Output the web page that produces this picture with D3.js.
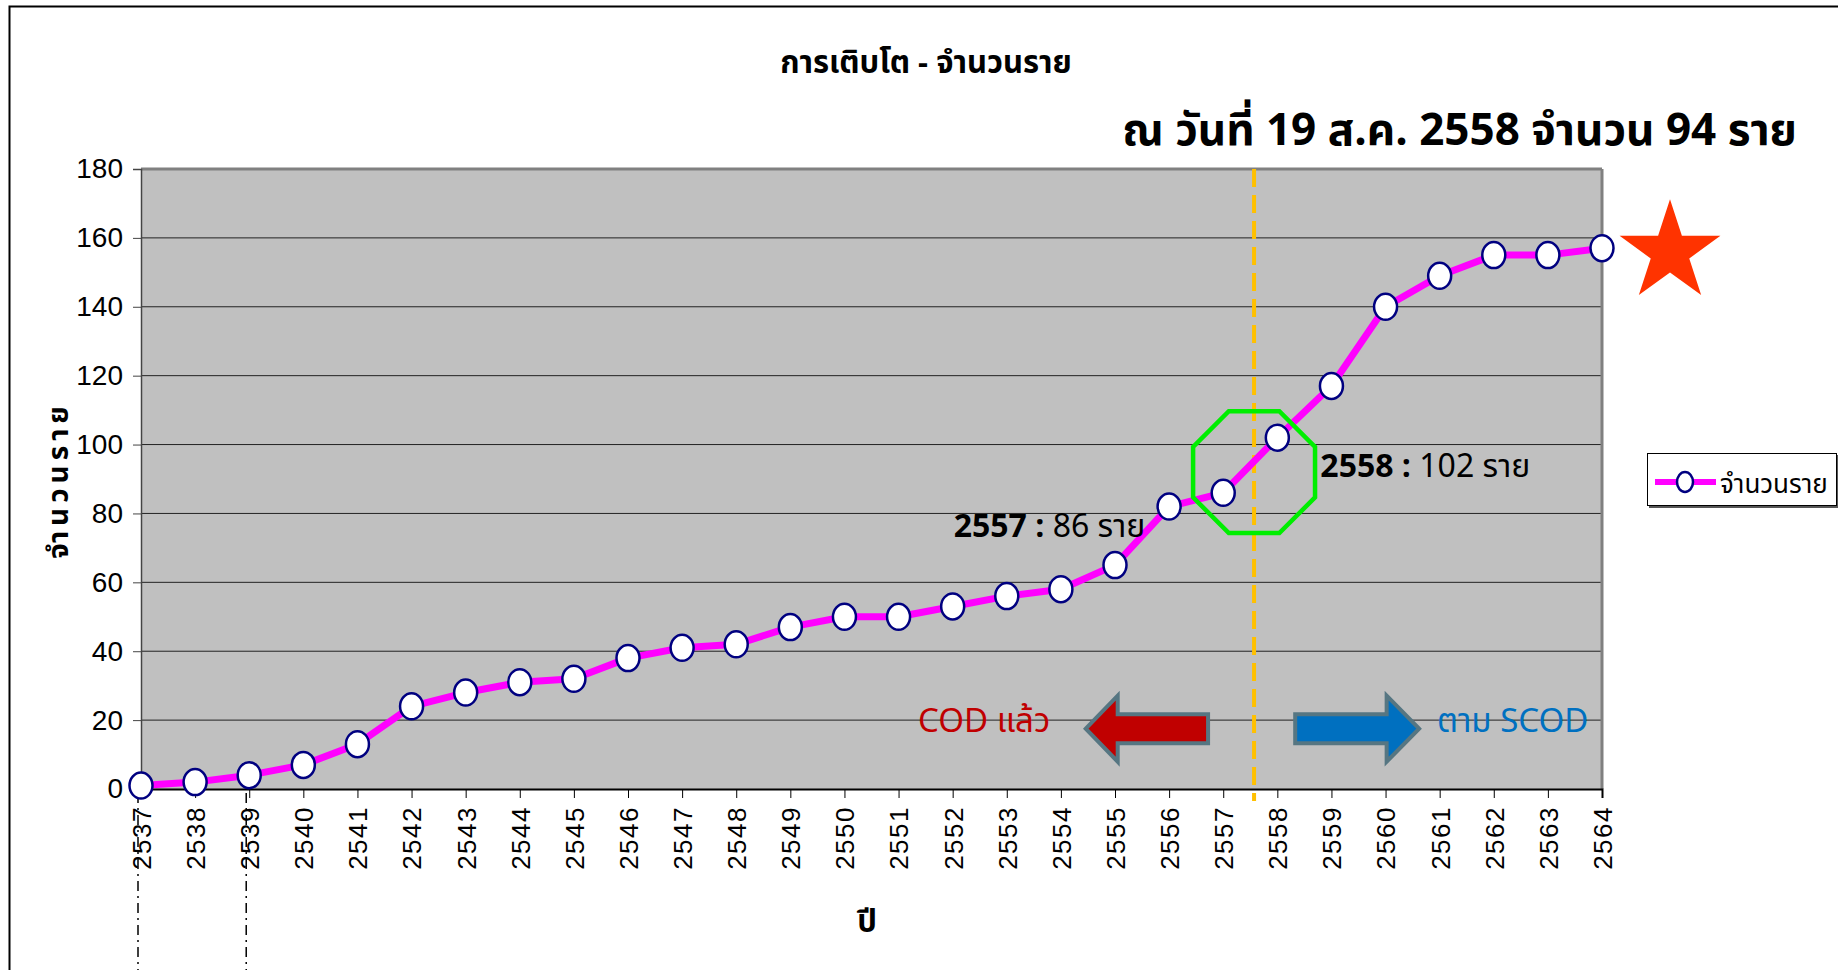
<!DOCTYPE html>
<meta charset="utf-8">
<script src="https://d3js.org/d3.v7.min.js"></script>
<style>
  body { margin: 0; background: #fff; }
  text { font-family: "Noto Sans Thai", "Noto Sans", "DejaVu Sans", sans-serif; }
</style>
<div id="chart"></div>
<script>
// data
var years = d3.range(2537, 2565);
var counts = [1, 2, 4, 7, 13, 24, 28, 31, 32, 38, 41, 42, 47, 50, 50, 53, 56, 58, 65, 82, 86, 102, 117, 140, 149, 155, 155, 157];
var yTicks = [0, 20, 40, 60, 80, 100, 120, 140, 160, 180];
var seriesName = "จำนวนราย";
var splitYear = 2557.57;   // orange dashed line
var ringValue = 92;        // centre of the green octagon

var W = 1838, H = 970;
var plot = {left: 141, right: 1602, top: 169, bottom: 789};

var svg = d3.select("#chart").append("svg")
    .attr("width", W).attr("height", H);

// outer chart border (runs off the right and bottom)
svg.append("rect")
    .attr("x", 9.5).attr("y", 6.5)
    .attr("width", W + 20).attr("height", H + 20)
    .attr("fill", "none").attr("stroke", "#000").attr("stroke-width", 2);

var x = d3.scaleLinear().domain([2537, 2564]).range([plot.left, plot.right]);
var y = d3.scaleLinear().domain([0, 180]).range([plot.bottom, plot.top]);

// plot background
svg.append("rect")
    .attr("x", plot.left).attr("y", plot.top)
    .attr("width", plot.right - plot.left).attr("height", plot.bottom - plot.top)
    .attr("fill", "#c0c0c0");

// gridlines
svg.append("g").selectAll("line")
  .data(yTicks.slice(1, -1))
  .enter().append("line")
    .attr("x1", plot.left).attr("x2", plot.right)
    .attr("y1", d => y(d)).attr("y2", d => y(d))
    .attr("stroke", "#222").attr("stroke-width", 1);

// top and right border of plot area
svg.append("line").attr("x1", plot.left).attr("x2", plot.right)
    .attr("y1", plot.top).attr("y2", plot.top)
    .attr("stroke", "#808080").attr("stroke-width", 3);
svg.append("line").attr("x1", plot.right).attr("x2", plot.right)
    .attr("y1", plot.top).attr("y2", plot.bottom)
    .attr("stroke", "#808080").attr("stroke-width", 3);

// Y axis
var yAxis = svg.append("g")
    .attr("transform", "translate(" + plot.left + ",0)")
    .call(d3.axisLeft(y).tickValues(yTicks).tickSize(8).tickPadding(10));
yAxis.select(".domain").attr("stroke", "#444").attr("stroke-width", 1.5);
yAxis.selectAll(".tick line").attr("stroke", "#444");
yAxis.selectAll("text")
    .style("font-family", "'Liberation Sans Narrow', 'Liberation Sans', Arial, sans-serif")
    .style("font-size", "28px").attr("fill", "#000");

// X axis
var xAxis = svg.append("g")
    .attr("transform", "translate(0," + plot.bottom + ")")
    .call(d3.axisBottom(x).tickValues(years).tickFormat(d3.format("d")).tickSize(9));
xAxis.select(".domain").attr("stroke", "#000").attr("stroke-width", 2);
xAxis.selectAll(".tick line").attr("stroke", "#000");
xAxis.selectAll("text")
    .style("font-family", "'Liberation Sans', Arial, sans-serif")
    .style("font-size", "26px").style("letter-spacing", "1.5px")
    .attr("fill", "#000")
    .attr("text-anchor", "end")
    .attr("transform", "translate(0,17) rotate(-90)")
    .attr("x", 0).attr("y", 0).attr("dy", "0.36em");

// dash-dot guide lines under 2537 and 2539
svg.append("g").selectAll("line")
  .data([2537, 2539])
  .enter().append("line")
    .attr("x1", d => x(d) - 3).attr("x2", d => x(d) - 3)
    .attr("y1", plot.bottom + 4).attr("y2", H)
    .attr("stroke", "#000").attr("stroke-width", 1.5)
    .attr("stroke-dasharray", "10,5,2,5");

// orange dashed divider
svg.append("line")
    .attr("x1", x(splitYear)).attr("x2", x(splitYear))
    .attr("y1", plot.top).attr("y2", plot.bottom + 12)
    .attr("stroke", "#ffc000").attr("stroke-width", 4)
    .attr("stroke-dasharray", "18,8");

// arrows
function arrowPath(tipX, baseX, endX, cy, bodyH, headH) {
  return "M" + tipX + "," + cy +
    "L" + baseX + "," + (cy - headH) +
    "L" + baseX + "," + (cy - bodyH) +
    "L" + endX + "," + (cy - bodyH) +
    "L" + endX + "," + (cy + bodyH) +
    "L" + baseX + "," + (cy + bodyH) +
    "L" + baseX + "," + (cy + headH) + "Z";
}
var arrowY = y(17.5);
svg.append("path")
    .attr("d", arrowPath(x(2554.46), x(2555.05), x(2556.72), arrowY, 14.5, 33))
    .attr("fill", "#c00000").attr("stroke", "#567682").attr("stroke-width", 4)
    .attr("stroke-linejoin", "miter");
svg.append("path")
    .attr("d", arrowPath(x(2560.62), x(2560.02), x(2558.33), arrowY, 14.5, 33))
    .attr("fill", "#0070c0").attr("stroke", "#567682").attr("stroke-width", 4)
    .attr("stroke-linejoin", "miter");

svg.append("text")
    .attr("x", x(2551.36)).attr("y", plot.bottom - 57)
    .attr("font-size", "33px").attr("fill", "#c00000")
    .text("COD แล้ว");
svg.append("text")
    .attr("x", x(2560.95)).attr("y", plot.bottom - 57)
    .attr("font-size", "33px").attr("fill", "#0070c0")
    .text("ตาม SCOD");

// data line
var pts = years.map((d, i) => ({year: d, value: counts[i]}));
svg.append("path")
    .datum(pts)
    .attr("fill", "none")
    .attr("stroke", "#ff00ff").attr("stroke-width", 7)
    .attr("stroke-linejoin", "round")
    .attr("d", d3.line().x(d => x(d.year)).y(d => y(d.value)));

// green octagon
var ringCx = x(splitYear), ringCy = y(ringValue), ringR = 66;
var octo = d3.range(8).map(k => {
  var a = Math.PI / 8 + k * Math.PI / 4;
  return [ringCx + ringR * Math.cos(a), ringCy + ringR * Math.sin(a)];
});
svg.append("path")
    .attr("d", d3.line()(octo) + "Z")
    .attr("fill", "none").attr("stroke", "#00ee00").attr("stroke-width", 4.5);

// markers
svg.append("g").selectAll("ellipse")
  .data(pts)
  .enter().append("ellipse")
    .attr("cx", d => x(d.year)).attr("cy", d => y(d.value))
    .attr("rx", 11.5).attr("ry", 13)
    .attr("fill", "#fff").attr("stroke", "#000080").attr("stroke-width", 2.5);

// callouts
var c1 = svg.append("text")
    .attr("x", x(2557) - 78).attr("y", y(86) + 44)
    .attr("text-anchor", "end").attr("font-size", "32px").attr("fill", "#000");
c1.append("tspan").attr("font-weight", "bold").text("2557 : ");
c1.append("tspan").text("86 ราย");
var c2 = svg.append("text")
    .attr("x", x(2558) + 43).attr("y", y(102) + 39)
    .attr("font-size", "32px").attr("fill", "#000");
c2.append("tspan").attr("font-weight", "bold").text("2558 : ");
c2.append("tspan").text("102 ราย");

// star
var starCx = plot.right + 68, starCy = y(157) + 4, R = 53, r = R * 0.382;
var star = d3.range(10).map(k => {
  var a = -Math.PI / 2 + k * Math.PI / 5, rr = k % 2 ? r : R;
  return [starCx + rr * Math.cos(a), starCy + rr * Math.sin(a)];
});
svg.append("path").attr("d", d3.line()(star) + "Z").attr("fill", "#ff3300");

// titles
svg.append("text")
    .attr("x", 926).attr("y", 73)
    .attr("text-anchor", "middle").attr("font-size", "31px").attr("font-weight", "bold")
    .text("การเติบโต - จำนวนราย");
svg.append("text")
    .attr("x", 1797).attr("y", 145)
    .attr("text-anchor", "end").attr("font-size", "44px").attr("font-weight", "bold")
    .text("ณ วันที่ 19 ส.ค. 2558 จำนวน 94 ราย");

svg.append("text")
    .attr("transform", "translate(68,480) rotate(-90)")
    .attr("text-anchor", "middle").attr("font-size", "28px").attr("font-weight", "bold")
    .style("letter-spacing", "5px")
    .text("จำนวนราย");
svg.append("text")
    .attr("x", 867).attr("y", 932)
    .attr("text-anchor", "middle").attr("font-size", "31px").attr("font-weight", "bold")
    .text("ปี");

// legend
var lg = svg.append("g").attr("transform", "translate(1647,453)");
lg.append("rect").attr("x", 2).attr("y", 2).attr("width", 190).attr("height", 53).attr("fill", "#555");
lg.append("rect").attr("x", 0.5).attr("y", 0.5).attr("width", 189).attr("height", 52)
    .attr("fill", "#fff").attr("stroke", "#000").attr("stroke-width", 1);
lg.append("line").attr("x1", 8).attr("x2", 69).attr("y1", 29).attr("y2", 29)
    .attr("stroke", "#ff00ff").attr("stroke-width", 6);
lg.append("ellipse").attr("cx", 38).attr("cy", 29).attr("rx", 8).attr("ry", 10)
    .attr("fill", "#fff").attr("stroke", "#000080").attr("stroke-width", 2.5);
lg.append("text").attr("x", 73).attr("y", 40).attr("font-size", "26px").attr("fill", "#000")
    .text(seriesName);
</script>
